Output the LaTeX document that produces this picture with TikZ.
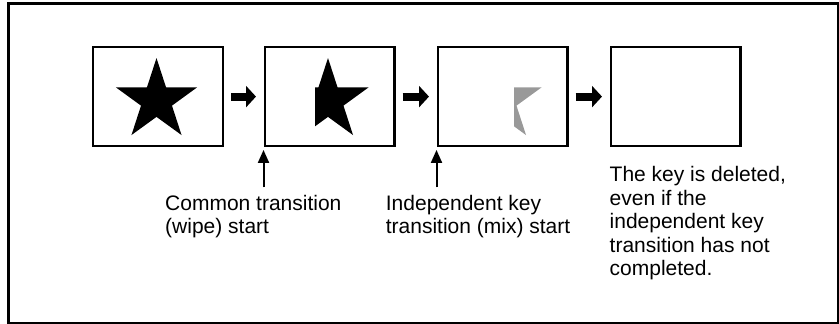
\documentclass[tikz,border=0pt]{standalone}
\usepackage{fontspec}
\setmainfont{Liberation Sans}
\usetikzlibrary{arrows.meta,shapes.geometric}

\tikzset{
  frame/.style={draw, line width=2.4pt, minimum width=129.6pt, minimum height=98.9pt, inner sep=0pt},
  keystar/.style={star, star points=5, star point ratio=2.618, minimum size=85.2pt, inner sep=0pt, outer sep=0pt},
  nextarrow/.style={line width=8pt, -{Triangle[width=21pt,length=10pt]}, shorten <=7pt, shorten >=7.5pt},
  startarrow/.style={line width=2pt, -{Triangle[width=11pt,length=13pt]}, shorten >=2.7pt},
  note/.style={align=left, anchor=north west, inner sep=0pt, font=\fontsize{21}{23.5}\selectfont}
}

\begin{document}
\begin{tikzpicture}[x=1pt, y=-1pt]
    \useasboundingbox (0,0) rectangle (839,324);
    \draw[line width=2.5pt] (8.7,3.5) rectangle (838,322.8);

    % the four pictures
    \node[frame] (f1) at (158,96.6) {};
    \node[frame] (f2) at (329.5,96.6) {};
    \node[frame] (f3) at (502.5,96.6) {};
    \node[frame] (f4) at (675.5,96.6) {};

    % key: full, wiped, fading
    \node[keystar, fill=black] (s1) at ([xshift=-1.5pt, yshift=-4pt]f1.center) {};
    \begin{scope}
        \clip (315,40) rectangle (400,150);
        \node[keystar, fill=black] (s2) at ([xshift=-1.5pt, yshift=-4pt]f2.center) {};
    \end{scope}
    \begin{scope}
        \clip (514,40) rectangle (570,150);
        \node[keystar, fill=black!40] (s3) at ([xshift=-1.5pt, yshift=-4pt]f3.center) {};
    \end{scope}

    \draw[nextarrow] (f1) -- (f2);
    \draw[nextarrow] (f2) -- (f3);
    \draw[nextarrow] (f3) -- (f4);

    \coordinate (u2) at ([yshift=-40pt]f2.south west);
    \coordinate (u3) at ([yshift=-40pt]f3.south west);
    \draw[startarrow] (u2) -- (f2.south west);
    \draw[startarrow] (u3) -- (f3.south west);

    \node[note] (t2) at (165,194.8) {Common transition\\(wipe) start};
    \node[note] (t3) at (385.7,194.8) {Independent key\\transition (mix) start};
    \node[note] (t4) at (609.5,166.5) {The key is deleted,\\even if the\\independent key\\transition has not\\completed.};
\end{tikzpicture}
\end{document}
